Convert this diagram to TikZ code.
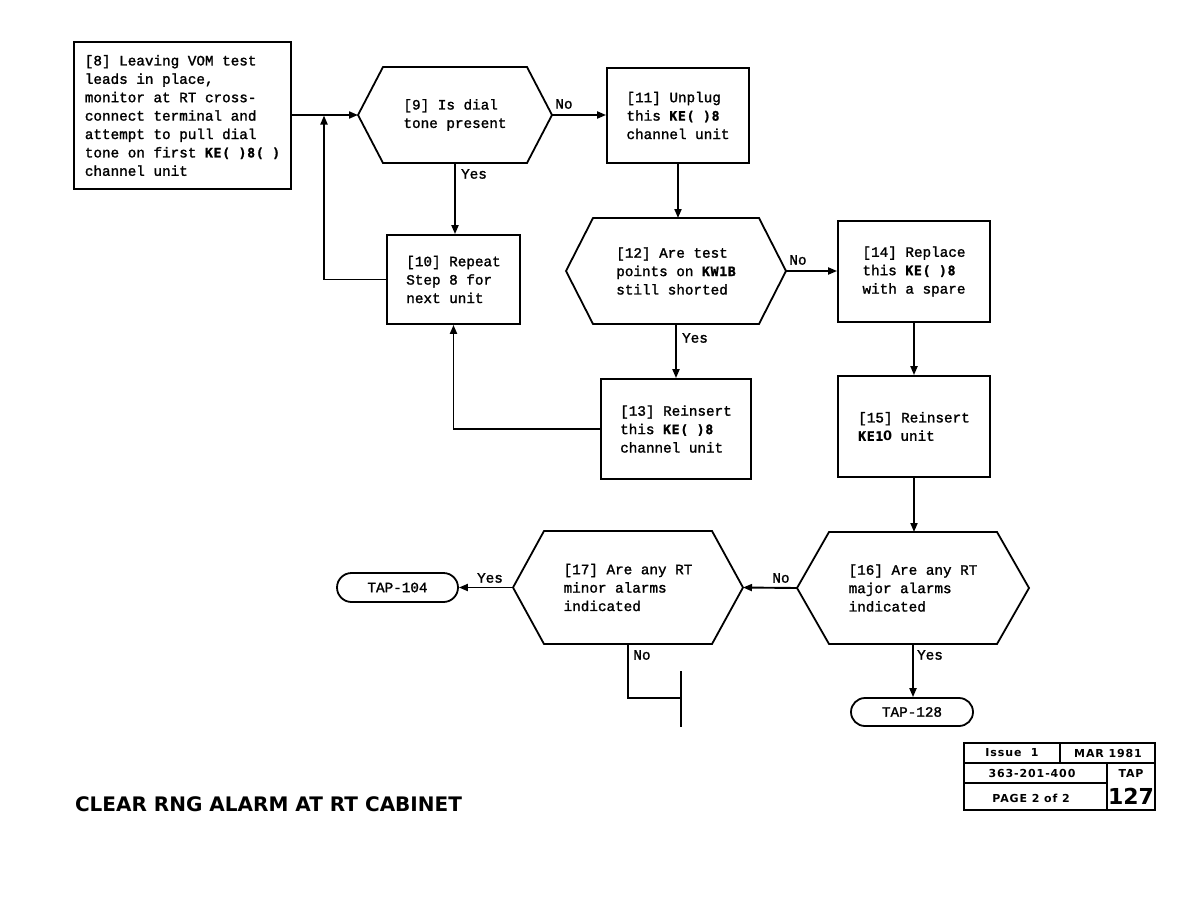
\documentclass[tikz,border=0pt]{standalone}
\usepackage{fontspec}
\newfontfamily\tw[FakeBold=1.5]{Liberation Mono}
\newfontfamily\hv{DejaVu Sans}
\newfontfamily\hvmb[LetterSpace=6,FakeBold=1.5]{DejaVu Sans Mono Bold}
\newfontfamily\hvw[LetterSpace=8]{DejaVu Sans}
\usetikzlibrary{shapes.misc,arrows.meta,calc}
\newcommand\kb[1]{{\hvmb\fontsize{13}{18.4}\selectfont #1}}
\newcommand\kz{\makebox[8.6pt]{\hv\bfseries\fontsize{13}{18.4}\selectfont 0}}
\newcommand\hexdraw[2]{\draw[shapeline] (#1.west) -- ($(#1.north west)+(#2,0)$) -- ($(#1.north east)+(-#2,0)$) -- (#1.east) -- ($(#1.south east)+(-#2,0)$) -- ($(#1.south west)+(#2,0)$) -- cycle;}
\tikzset{
  shapeline/.style={line width=1.8pt, line join=miter},
  txt/.style={font=\tw\fontsize{14.3}{18.4}\selectfont, align=left, inner sep=0pt},
  box/.style={txt, draw, line width=1.8pt},
  hexa/.style={txt, outer sep=0pt},
  term/.style={txt, draw, line width=1.8pt, rounded rectangle, align=center},
  arr/.style={line width=1.9pt, -{Triangle[length=9pt,width=7pt]}},
  ln/.style={line width=1.9pt},
  lbl/.style={font=\tw\fontsize{14.3}{16}\selectfont, inner sep=0pt},
  tbf/.style={font=\hvw\bfseries\fontsize{11}{12}\selectfont, inner sep=0pt},
}
\begin{document}
\begin{tikzpicture}[x=1pt,y=-1pt]
\useasboundingbox (0,0) rectangle (1188,918);
\fill[white] (0,0) rectangle (1188,918);

% boxes
\node[box, minimum width=217pt, minimum height=147pt] (b8) at (182.5,115.5)
 {[8] Leaving VOM test\\leads in place,\\monitor at RT cross-\\connect terminal and\\attempt to pull dial\\tone on first \kb{KE( )8( )}\\channel unit};
\node[box, minimum width=142pt, minimum height=95pt] (b11) at (678,115.5)
 {[11] Unplug\\this \kb{KE( )8}\\channel unit};
\node[box, minimum width=133pt, minimum height=89pt] (b10) at (453.5,279.5)
 {[10] Repeat\\Step 8 for\\next unit};
\node[box, minimum width=150pt, minimum height=100pt] (b13) at (676,429)
 {[13] Reinsert\\this \kb{KE( )8}\\channel unit};
\node[box, minimum width=152pt, minimum height=101pt] (b14) at (914,271.5)
 {[14] Replace\\this \kb{KE( )8}\\with a spare};
\node[box, minimum width=152pt, minimum height=101pt] (b15) at (914,426.5)
 {[15] Reinsert\\\kb{KE1}\kz{} unit};

% hexagons
\node[hexa, minimum width=194pt, minimum height=96pt] (h9) at (455,115)
 {[9] Is dial\\tone present};
\hexdraw{h9}{25}
\node[hexa, minimum width=220pt, minimum height=106pt] (h12) at (676,271)
 {[12] Are test\\points on \kb{KW1B}\\still shorted};
\hexdraw{h12}{27}
\node[hexa, minimum width=232pt, minimum height=112pt] (h16) at (913,588)
 {[16] Are any RT\\major alarms\\indicated};
\hexdraw{h16}{32}
\node[hexa, minimum width=230pt, minimum height=113pt] (h17) at (628,587.5)
 {[17] Are any RT\\minor alarms\\indicated};
\hexdraw{h17}{31}

% terminals
\node[term, minimum width=121pt, minimum height=29pt] (t104) at (397.5,587.5) {TAP-104};
\node[term, minimum width=122pt, minimum height=28pt] (t128) at (912,712) {TAP-128};

% coordinates
\coordinate (j1) at (324,115.5);
\coordinate (e1) at (628,698);
\coordinate (e2) at (681,698);
\coordinate (bt) at (681,671);
\coordinate (bb) at (681,727);

% connectors
\draw[arr] (b8.east |- h9.west) -- (h9.west);
\draw[arr] (h9.east) -- (h9.east -| b11.west);
\draw[arr] (h9.south) -- (h9.south |- b10.north);
\draw[arr] (b10.west) -| (j1);
\draw[arr] (b11.south) -- (b11.south |- h12.north);
\draw[arr] (h12.east) -- (h12.east -| b14.west);
\draw[arr] (h12.south) -- (h12.south |- b13.north);
\draw[arr] (b13.west) -| (b10.south);
\draw[arr] (b14.south) -- (b14.south |- b15.north);
\draw[arr] (b15.south) -- (b15.south |- h16.north);
\draw[arr] (h16.west) -- (h17.east);
\draw[arr] (h16.south) -- (h16.south |- t128.north);
\draw[arr] (h17.west) -- (t104.east);
\draw[ln] (h17.south) -- (e1) -- (e2);
\draw[line width=2.8pt] (bt) -- (bb);

% labels
\node[lbl] (l1) at (564,104) {No};
\node[lbl] (l2) at (474,174) {Yes};
\node[lbl] (l3) at (798,260) {No};
\node[lbl] (l4) at (695,338) {Yes};
\node[lbl] (l5) at (781,578) {No};
\node[lbl] (l6) at (930,655) {Yes};
\node[lbl] (l7) at (490,578) {Yes};
\node[lbl] (l8) at (642,655) {No};

% title
\node[inner sep=0pt, font=\hv\bfseries\fontsize{20}{20}\selectfont] (title) at (268.5,804) {CLEAR RNG ALARM AT RT CABINET};

% title block
\draw[line width=1.6pt] (964,743) rectangle (1155,810);
\draw[line width=1.4pt] (964,763) -- (1155,763);
\draw[line width=1.4pt] (964,783) -- (1107,783);
\draw[line width=1.4pt] (1060,743) -- (1060,763);
\draw[line width=1.4pt] (1107,763) -- (1107,810);
\node[tbf] (tb1) at (1012,753) {Issue\ \ 1};
\node[tbf] (tb2) at (1108,753) {MAR 1981};
\node[tbf] (tb3) at (1032,773) {363-201-400};
\node[tbf] (tb4) at (1131,773) {TAP};
\node[tbf] (tb5) at (1031,798) {PAGE 2 of 2};
\node[inner sep=0pt, font=\hv\bfseries\fontsize{22}{22}\selectfont] (tb6) at (1131,796) {127};
\end{tikzpicture}
\end{document}
